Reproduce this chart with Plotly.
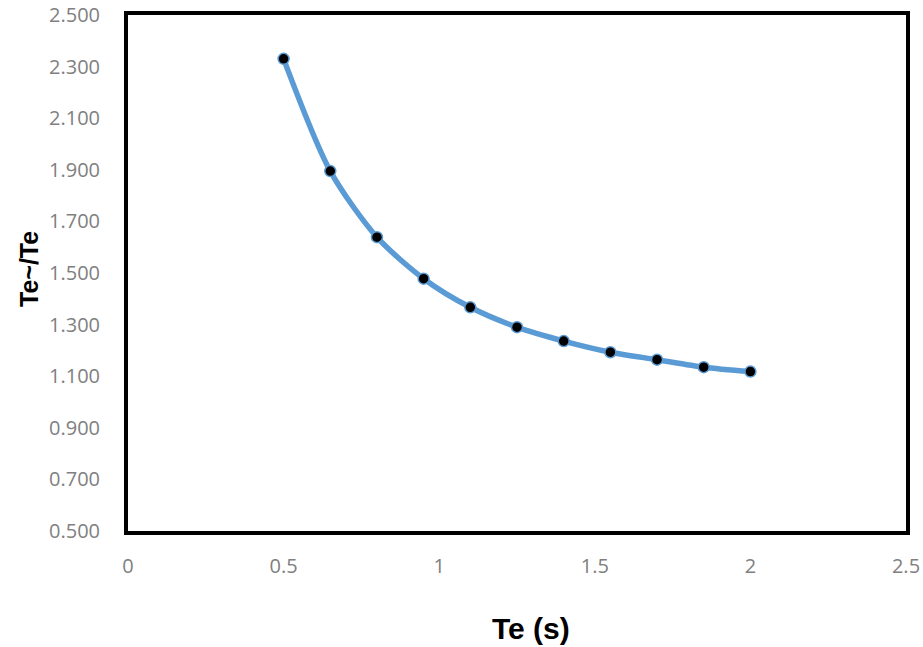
import plotly.graph_objects as go

te = [0.5, 0.65, 0.8, 0.95, 1.1, 1.25, 1.4, 1.55, 1.7, 1.85, 2.0]
ratio = [2.330, 1.895, 1.639, 1.478, 1.367, 1.290, 1.236, 1.193, 1.164, 1.135, 1.118]

x_ticks = [0, 0.5, 1, 1.5, 2, 2.5]
x_ticklabels = ["0", "0.5", "1", "1.5", "2", "2.5"]
y_ticks = [0.5, 0.7, 0.9, 1.1, 1.3, 1.5, 1.7, 1.9, 2.1, 2.3, 2.5]
y_ticklabels = ["0.500", "0.700", "0.900", "1.100", "1.300", "1.500", "1.700", "1.900", "2.100", "2.300", "2.500"]

W, H = 923, 647
ML, MR, MT, MB = 128, 17, 15, 116

fig = go.Figure()
fig.add_trace(go.Scatter(
    x=te, y=ratio, mode="lines+markers",
    line=dict(color="#5B9BD5", width=5.5, shape="spline", smoothing=0.8),
    marker=dict(color="black", size=11, line=dict(color="#5B9BD5", width=1.5)),
    showlegend=False,
))

tickfont = dict(family="'Open Sans', sans-serif", size=20, color="#808080")
pw = W - ML - MR
ph = H - MT - MB


def px_to_paper(x, y):
    return (x - ML) / pw, (H - MB - y) / ph


tx, ty = px_to_paper(531, 628)
yx, yy = px_to_paper(29, 269)

fig.update_layout(
    template="none",
    width=W, height=H,
    margin=dict(l=ML, r=MR, t=MT, b=MB, pad=0),
    paper_bgcolor="white", plot_bgcolor="white",
    xaxis=dict(range=[0, 2.5], tickvals=x_ticks, ticktext=x_ticklabels,
               showgrid=False, zeroline=False, showline=True, mirror=True,
               linecolor="black", linewidth=4, ticks="", tickfont=tickfont,
               ticklabelstandoff=14, automargin=False, ticklabeloverflow="allow"),
    yaxis=dict(range=[0.5, 2.5], tickvals=y_ticks, ticktext=y_ticklabels,
               showgrid=False, zeroline=False, showline=True, mirror=True,
               linecolor="black", linewidth=4, ticks="", tickfont=tickfont,
               ticklabelstandoff=20, automargin=False, ticklabeloverflow="allow"),
    annotations=[
        dict(text="<b>Te (s)</b>", x=tx, y=ty, xref="paper", yref="paper",
             xanchor="center", yanchor="middle",
             showarrow=False, font=dict(family="Liberation Sans, Arial", size=30, color="black")),
        dict(text="<b>Te~/Te</b>", x=yx, y=yy, xref="paper", yref="paper",
             xanchor="center", yanchor="middle",
             showarrow=False, textangle=-90,
             font=dict(family="Liberation Sans, Arial", size=25, color="black")),
    ],
)

fig.write_html("out.html",
               config={"displayModeBar": False},
               post_script="document.body.style.margin='0';document.body.style.overflow='hidden';")
